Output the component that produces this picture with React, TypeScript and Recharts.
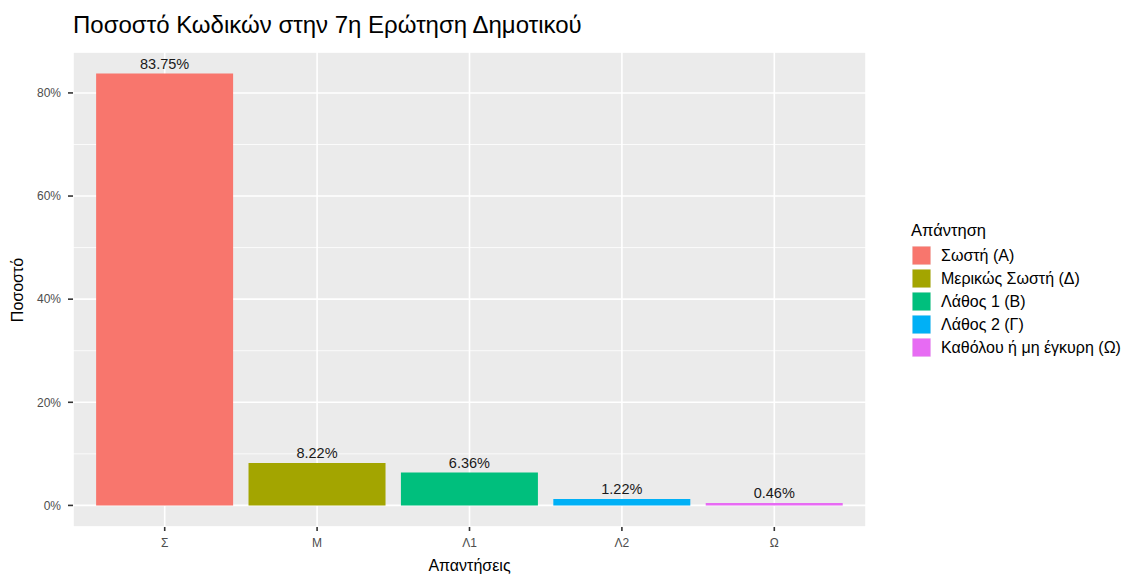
import React from 'react';
import { BarChart, Bar, XAxis, YAxis, CartesianGrid, Cell, LabelList } from 'recharts';

const categories = ['Σ', 'Μ', 'Λ1', 'Λ2', 'Ω'];
const values = [83.75, 8.22, 6.36, 1.22, 0.46];
const legendLabels = ['Σωστή (Α)', 'Μερικώς Σωστή (Δ)', 'Λάθος 1 (Β)', 'Λάθος 2 (Γ)', 'Καθόλου ή μη έγκυρη (Ω)'];
const colors = ['#F8766D', '#A3A500', '#00BF7D', '#00B0F6', '#E76BF3'];
const yTicks = [0, 20, 40, 60, 80];
const yMinorTicks = [10, 30, 50, 70];

const data = categories.map((c, i) => ({ cat: c, value: values[i] }));

const FONT = '"Liberation Sans", Arial, Helvetica, sans-serif';

export default function App() {
  const maxV = Math.max(...values);
  const pad = maxV * 0.05;
  const domain: [number, number] = [-pad, maxV + pad];
  return (
    <div style={{ position: 'absolute', left: 0, top: 0, width: 1124, height: 575, background: '#fff', fontFamily: FONT }}>
      <BarChart
        width={1124}
        height={575}
        data={data}
        margin={{ top: 52, right: 258, left: 13, bottom: 18 }}
        barCategoryGap="5%"
      >
        <CartesianGrid fill="#EBEBEB" stroke="#FFFFFF" strokeWidth={0.8} vertical={false} yAxisId="minor" />
        <CartesianGrid stroke="#FFFFFF" strokeWidth={1.6} />
        <XAxis
          dataKey="cat"
          height={30}
          axisLine={false}
          tickSize={4}
          tickMargin={7}
          tickLine={{ stroke: '#333333', strokeWidth: 1.6 }}
          tick={{ fill: '#4D4D4D', fontSize: 12, fontFamily: FONT }}
          padding={{ left: 15.5, right: 15.5 }}
        />
        <YAxis
          type="number"
          width={60}
          domain={domain}
          ticks={yTicks}
          allowDataOverflow
          axisLine={false}
          tickSize={5}
          tickMargin={7}
          tickLine={{ stroke: '#333333', strokeWidth: 1.6 }}
          tick={{ fill: '#4D4D4D', fontSize: 12, fontFamily: FONT }}
          tickFormatter={(v: number) => `${v}%`}
        />
        <YAxis
          yAxisId="minor"
          type="number"
          width={0}
          hide
          domain={domain}
          ticks={yMinorTicks}
          allowDataOverflow
        />
        <Bar dataKey="value" isAnimationActive={false}>
          {data.map((d, i) => (
            <Cell key={d.cat} fill={colors[i]} />
          ))}
          <LabelList
            dataKey="value"
            position="top"
            offset={5}
            formatter={(v: number) => `${v.toFixed(2)}%`}
            style={{ fill: '#1A1A1A', fontSize: 14.5, fontFamily: FONT }}
          />
        </Bar>
      </BarChart>
      <svg
        width={1124}
        height={575}
        style={{ position: 'absolute', left: 0, top: 0, pointerEvents: 'none' }}
        fontFamily={FONT}
      >
        <text x={73} y={33} fontSize={24} fill="#000">Ποσοστό Κωδικών στην 7η Ερώτηση Δημοτικού</text>
        <text x={469.5} y={571} fontSize={16} fill="#000" textAnchor="middle">Απαντήσεις</text>
        <text x={23} y={290} fontSize={16} fill="#000" textAnchor="middle" transform="rotate(-90 23 290)">Ποσοστό</text>
        <text x={911} y={236} fontSize={16.5} fill="#000">Απάντηση</text>
        {legendLabels.map((l, i) => (
          <g key={l}>
            <rect x={912} y={246 + i * 23} width={19} height={19} fill="#F2F2F2" />
            <rect x={912.5} y={246.5 + i * 23} width={18} height={18} fill={colors[i]} />
            <text x={941} y={261 + i * 23} fontSize={16} fill="#000">{l}</text>
          </g>
        ))}
      </svg>
    </div>
  );
}
